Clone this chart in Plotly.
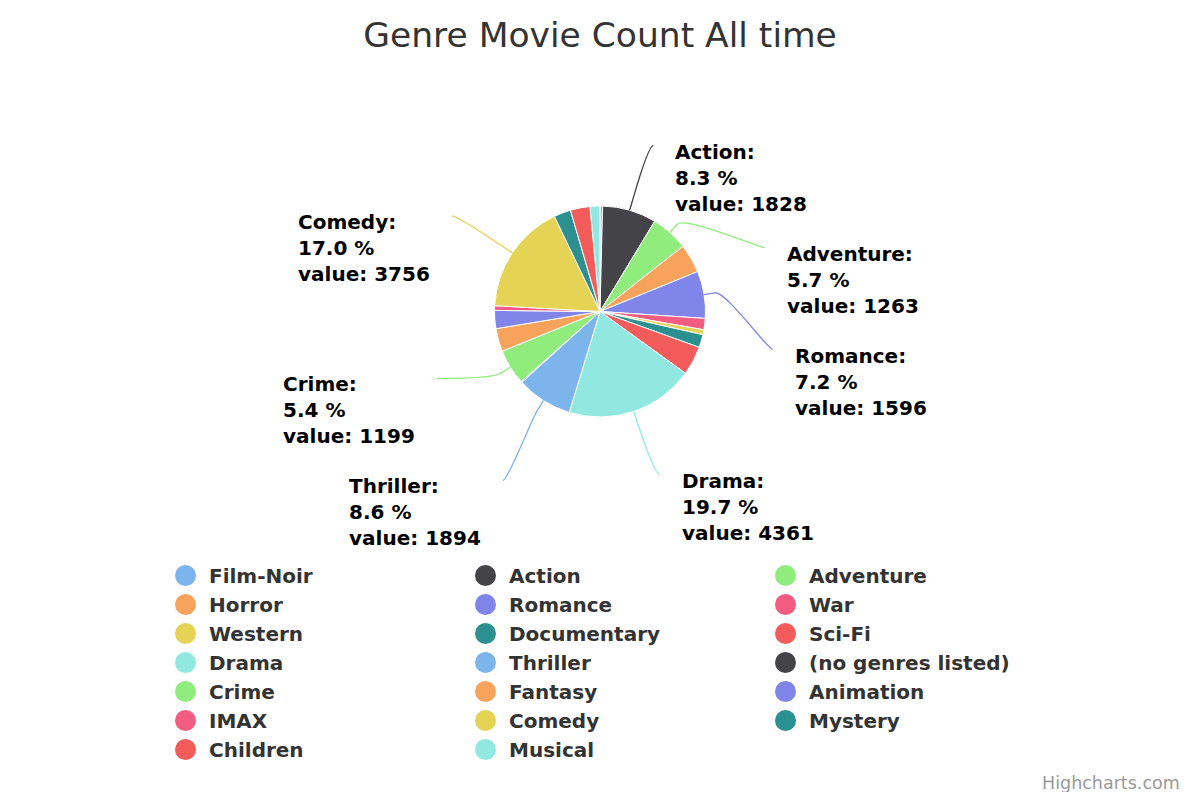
import math
import plotly.graph_objects as go

# ---------------- data ----------------
genres = ["Film-Noir", "Action", "Adventure", "Horror", "Romance", "War", "Western",
          "Documentary", "Sci-Fi", "Drama", "Thriller", "(no genres listed)", "Crime",
          "Fantasy", "Animation", "IMAX", "Comedy", "Mystery", "Children", "Musical"]
counts = [87, 1828, 1263, 978, 1596, 382, 167, 440, 980, 4361, 1894, 34, 1199,
          779, 611, 158, 3756, 573, 664, 334]
palette = ["#7cb5ec", "#434348", "#90ed7d", "#f7a35c", "#8085e9",
           "#f15c80", "#e4d354", "#2b908f", "#f45b5b", "#91e8e1"]
colors = [palette[i % len(palette)] for i in range(len(genres))]
title_text = "Genre Movie Count All time"
credit_text = "Highcharts.com"

# ---------------- layout geometry (screen pixels) ----------------
PAGE_OFF = 8                     # default body margin of the html page
W, H = 1200 - 2 * PAGE_OFF, 800 - 2 * PAGE_OFF
CX, CY, R = 600, 311.5, 105.5
DIST = 66.5          # label distance from pie edge
PAD = 5
GAP = 102            # min vertical spacing of labels
CONN_OFF = 11
TEXT_GAP = 20
MIN_PCT = 5
FONT = "DejaVu Sans"


def px(x):
    return (x - PAGE_OFF) / W


def py(y):
    return 1 - (y - PAGE_OFF) / H


total = sum(counts)
RD = R + DIST
items = []
cum = 0.0
for g, c, col in zip(genres, counts, colors):
    frac = c / total
    th = (cum + frac / 2) * 2 * math.pi
    cum += frac
    if frac * 100 > MIN_PCT:
        left = math.sin(th) < 0
        items.append(dict(name=g, val=c, pct=frac * 100, th=th, col=col, left=left,
                          ny=CY - RD * math.cos(th),
                          nx=CX + RD * math.sin(th) + (-PAD if left else PAD)))


def distribute(ts, lo):
    z = [t - i * GAP for i, t in enumerate(ts)]
    blocks = []
    for v in z:
        blocks.append([v, 1])
        while len(blocks) > 1 and blocks[-2][0] / blocks[-2][1] > blocks[-1][0] / blocks[-1][1]:
            s, n = blocks.pop()
            blocks[-1][0] += s
            blocks[-1][1] += n
    out = []
    for s, n in blocks:
        out += [s / n] * n
    out = [max(v, lo) for v in out]
    return [v + i * GAP for i, v in enumerate(out)]


lo = CY - RD + 6
for side in (True, False):
    grp = sorted([it for it in items if it["left"] == side], key=lambda d: d["ny"])
    ys = distribute([it["ny"] for it in grp], lo)
    for it, y in zip(grp, ys):
        it["y"] = y
        if CY - R + 2 < y < CY + R - 2:
            dx = math.sqrt(max(RD ** 2 - (y - CY) ** 2, 0)) + PAD
            it["x"] = CX - dx if side else CX + dx
        else:
            it["x"] = it["nx"]

fig = go.Figure()

fig.add_trace(go.Pie(
    labels=genres, values=counts, sort=False, direction="clockwise", rotation=0,
    marker=dict(colors=colors, line=dict(color="#ffffff", width=1)),
    textinfo="none", textposition="none", showlegend=False,
    domain=dict(x=[px(CX - R), px(CX + R)], y=[py(CY + R), py(CY - R)]),
    hovertemplate="%{label}<br>%{percent}<br>value: %{value}<extra></extra>",
))

for g, col in zip(genres, colors):
    fig.add_trace(go.Scatter(
        x=[None], y=[None], mode="markers", name=g,
        marker=dict(color=col, size=16, line=dict(color=col, width=5)),
        showlegend=True, hoverinfo="skip"))

shapes = []
annotations = []
for it in items:
    s, c = math.sin(it["th"]), math.cos(it["th"])
    tx, ty = CX + R * s, CY - R * c
    bx, by = CX + (R + CONN_OFF) * s, CY - (R + CONN_OFF) * c
    lx, ly = it["x"], it["y"]
    c1x = lx + (5 if it["left"] else -5)
    path = (f"M {px(lx)} {py(ly)} C {px(c1x)} {py(ly)}, {px(2*bx-tx)} {py(2*by-ty)}, "
            f"{px(bx)} {py(by)} L {px(tx)} {py(ty)}")
    shapes.append(dict(type="path", path=path, xref="paper", yref="paper",
                       line=dict(color=it["col"], width=1.3), layer="above"))
    txt = f"{it['name']}:<br>{it['pct']:.1f} %<br>value: {it['val']}"
    annotations.append(dict(
        text=txt, showarrow=False, xref="paper", yref="paper",
        x=px(lx - TEXT_GAP) if it["left"] else px(lx + TEXT_GAP),
        xanchor="right" if it["left"] else "left", align="left",
        y=py(ly + 32), yanchor="middle",
        font=dict(family=FONT, size=20, color="#000000", weight="bold")))

annotations.append(dict(
    text=credit_text, showarrow=False, xref="paper", yref="paper",
    x=px(1182), xanchor="right", y=py(783), yanchor="middle",
    font=dict(family=FONT, size=17.5, color="#999999")))

fig.update_layout(
    width=W, height=H,
    margin=dict(l=0, r=0, t=0, b=0),
    paper_bgcolor="#ffffff", plot_bgcolor="#ffffff",
    title=dict(text=title_text, x=px(600), xanchor="center", y=py(35), yanchor="middle",
               font=dict(family=FONT, size=34.5, color="#333333")),
    xaxis=dict(visible=False, range=[0, 1], fixedrange=True),
    yaxis=dict(visible=False, range=[0, 1], fixedrange=True),
    legend=dict(orientation="h", x=px(162), xanchor="left", y=py(556), yanchor="top",
                itemwidth=37,
                entrywidth=248, entrywidthmode="pixels", traceorder="normal",
                itemsizing="trace", bgcolor="rgba(0,0,0,0)",
                font=dict(family=FONT, size=20, color="#333333", weight="bold")),
    shapes=shapes, annotations=annotations,
)

fig.write_html("out.html")
